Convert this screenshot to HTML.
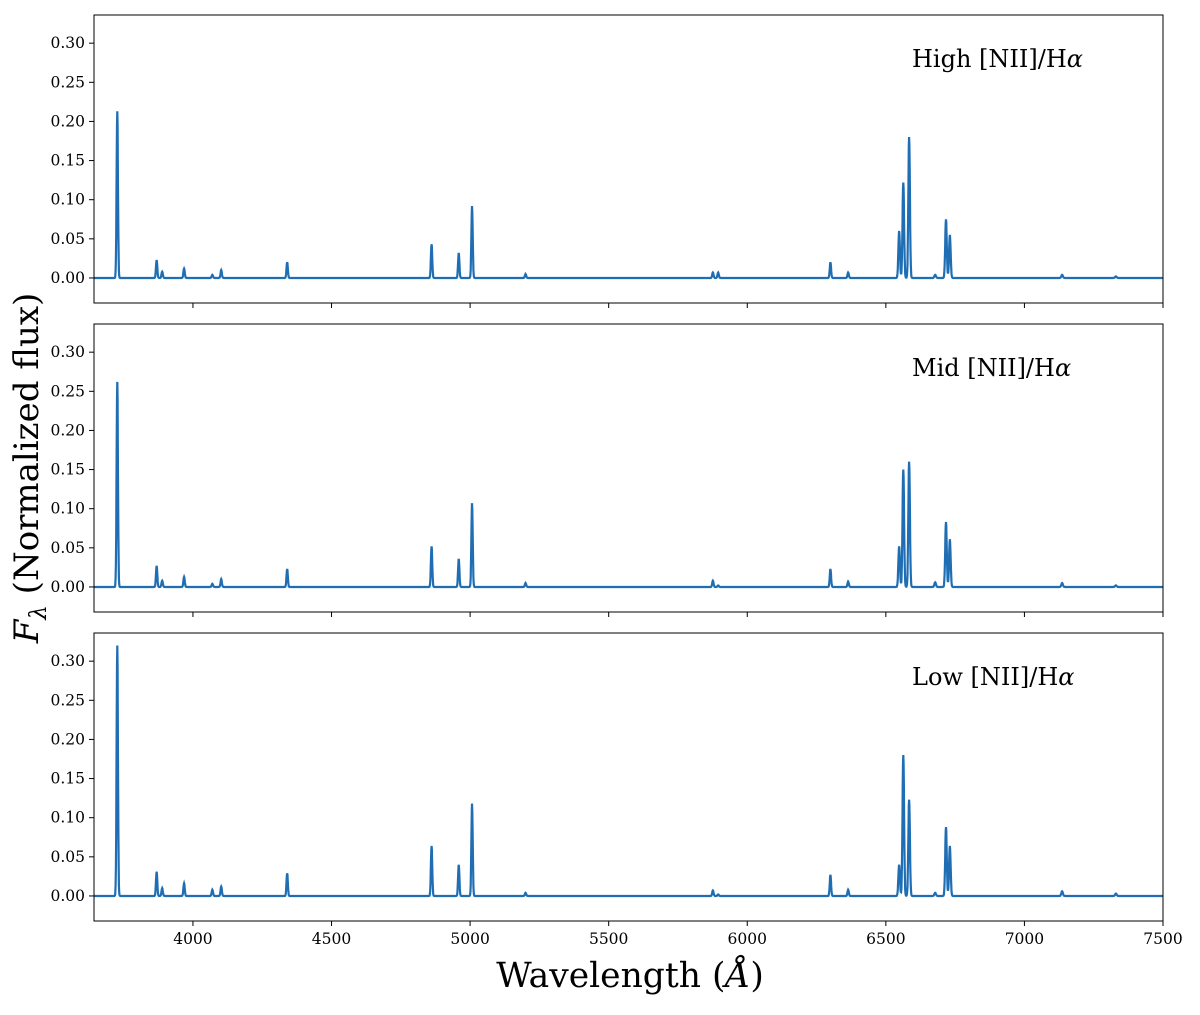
<!DOCTYPE html>
<html><head><meta charset="utf-8">
<style>
body{margin:0;background:#fff}
svg{display:block;font-family:"DejaVu Serif","Liberation Serif",serif}
</style></head>
<body>
<svg id="chart" width="1200" height="1015" viewBox="0 0 1200 1015"></svg>
<script>
const xTicks=[4000,4500,5000,5500,6000,6500,7000,7500];
const yTicks=[0,0.05,0.10,0.15,0.20,0.25,0.30];
const panelLabels=["High [NII]/H","Mid [NII]/H","Low [NII]/H"];
const lineWaves=[3727,3869,3889,3968,4070,4102,4340,4861,4959,5007,5200,5876,5895,6300,6364,6548,6563,6584,6678,6717,6731,7136,7330];
const ampHigh=[0.213,0.023,0.008,0.012,0.004,0.010,0.020,0.043,0.032,0.092,0.005,0.007,0.007,0.020,0.007,0.060,0.122,0.180,0.004,0.075,0.055,0.004,0.002];
const ampMid =[0.262,0.027,0.008,0.013,0.004,0.010,0.023,0.052,0.036,0.107,0.005,0.008,0.002,0.023,0.007,0.052,0.150,0.160,0.006,0.083,0.061,0.005,0.002];
const ampLow =[0.320,0.031,0.010,0.016,0.008,0.012,0.029,0.064,0.040,0.118,0.004,0.007,0.002,0.027,0.008,0.040,0.180,0.123,0.004,0.088,0.064,0.006,0.003];
const series=[ampHigh,ampMid,ampLow];

const NS="http://www.w3.org/2000/svg";
const svg=document.getElementById('chart');
function mk(t,a,p){const e=document.createElementNS(NS,t);for(const k in a)e.setAttribute(k,a[k]);(p||svg).appendChild(e);return e;}
const X0=94,X1=1163,xmin=3643,xmax=7500;
const xs=w=>X0+(w-xmin)/(xmax-xmin)*(X1-X0);
const tops=[15,324,633],H=288,ymin=-0.032,ymax=0.336;
const color="#1f6eb4";

tops.forEach((top,i)=>{
  const ys=v=>top+H-(v-ymin)/(ymax-ymin)*H;
  const g=mk('g',{});
  
  
  let d="";
  for(let w=xmin;w<=xmax;w+=1){
    let f=0;
    lineWaves.forEach((lw,j)=>{const s=lw>6500?2.8:2.4;f+=series[i][j]*Math.exp(-0.5*((w-lw)/s)**2);});
    d+=(d?"L":"M")+xs(w).toFixed(1)+","+ys(f).toFixed(1);
  }
  const p=mk('path',{d:d,fill:'none',stroke:color,'stroke-width':2.2},g);
  
  
  const fr=mk('rect',{x:X0,y:top,width:X1-X0,height:H,fill:'none',stroke:'#000','stroke-width':1},g);
  
  
  yTicks.forEach(v=>{
    const y=ys(v);
    mk('line',{x1:X0-5,x2:X0,y1:y,y2:y,stroke:'#000'},g);
    const t=mk('text',{x:X0-9,y:y+5,'text-anchor':'end','font-size':15.5},g);
    t.textContent=v.toFixed(2);
    
    
  });
  xTicks.forEach(v=>{
    mk('line',{x1:xs(v),x2:xs(v),y1:top+H,y2:top+H+5,stroke:'#000'},g);
    if(i===2){
      const t=mk('text',{x:xs(v),y:top+H+23,'text-anchor':'middle','font-size':15.5},g);
      t.textContent=v;
      
      
    }
  });
  const lab=mk('text',{x:912,y:top+52,'font-size':24},g);
  lab.textContent=panelLabels[i];
  const al=mk('tspan',{'font-style':'italic'},lab);al.textContent="α";
  
  
});
const xl=mk('text',{x:630,y:987,'text-anchor':'middle','font-size':34.5});
xl.textContent="Wavelength (";
const xi=mk('tspan',{'font-style':'italic'},xl);xi.textContent="Å";
const xr=mk('tspan',{},xl);xr.textContent=")";


const yl=mk('text',{x:0,y:0,'text-anchor':'middle','font-size':34,transform:'translate(38,468) rotate(-90)'});
const f1=mk('tspan',{'font-style':'italic'},yl);f1.textContent="F";
const f2=mk('tspan',{'font-style':'italic','font-size':23,dy:8},yl);f2.textContent="λ";
const f3=mk('tspan',{dy:-8},yl);f3.textContent=" (Normalized flux)";


</script>
</body></html>
